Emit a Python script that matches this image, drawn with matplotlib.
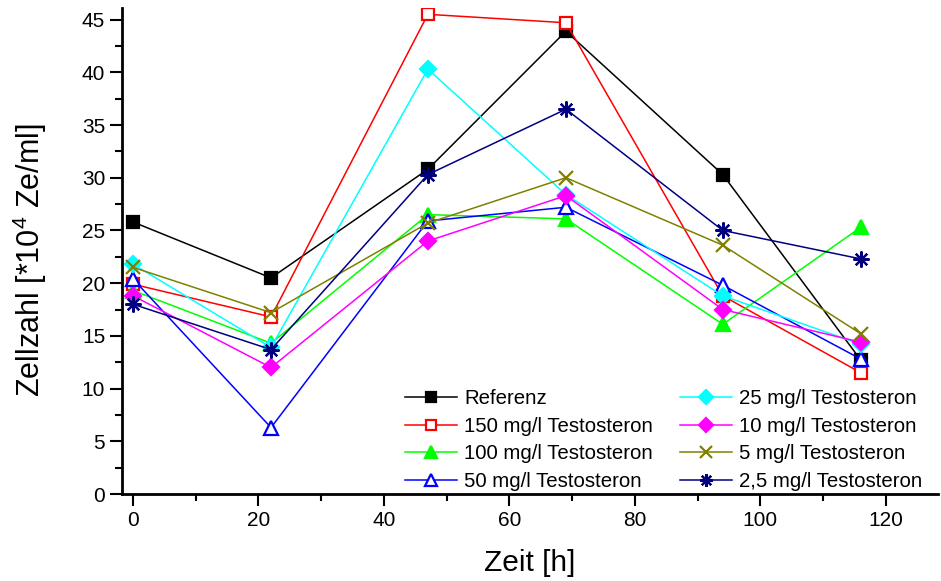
import matplotlib
matplotlib.use("Agg")
import matplotlib.pyplot as plt
from matplotlib.ticker import MultipleLocator

plt.rcParams["font.family"] = ["Liberation Sans", "DejaVu Sans"]
plt.rcParams["mathtext.default"] = "regular"

# Sampling times [h]
zeit = [0, 22, 47, 69, 94, 116]

# Cell counts [*10^4 Ze/ml]
referenz = [25.8, 20.5, 30.8, 43.9, 30.3, 12.7]
t150 = [19.9, 16.8, 45.5, 44.7, 18.8, 11.5]
t100 = [19.3, 14.3, 26.5, 26.1, 16.1, 25.3]
t50 = [20.4, 6.3, 25.9, 27.2, 19.8, 12.8]
t25 = [21.8, 13.9, 40.3, 28.4, 18.8, 14.2]
t10 = [18.8, 12.0, 24.0, 28.3, 17.5, 14.4]
t5 = [21.5, 17.2, 25.7, 30.0, 23.6, 15.2]
t2_5 = [18.0, 13.7, 30.3, 36.5, 25.0, 22.3]

serien = [
    ("Referenz", referenz, "#000000", "s", True),
    ("150 mg/l Testosteron", t150, "#FF0000", "s", False),
    ("100 mg/l Testosteron", t100, "#00FF00", "^", True),
    ("50 mg/l Testosteron", t50, "#0000FF", "^", False),
    ("25 mg/l Testosteron", t25, "#00FFFF", "D", True),
    ("10 mg/l Testosteron", t10, "#FF00FF", "D", True),
    ("5 mg/l Testosteron", t5, "#808000", "x", True),
    ("2,5 mg/l Testosteron", t2_5, "#000080", (8, 2, 0), True),
]

groessen = {"s": 8.5, "^": 10, "D": 8.5, "x": 10, (8, 2, 0): 11.5}

fig = plt.figure(figsize=(9.41, 5.81), dpi=100)
ax = fig.add_axes([122 / 941, 87 / 581, 816 / 941, 486 / 581])

for name, werte, farbe, marker, gefuellt in serien:
    ax.plot(zeit, werte, color=farbe, lw=1.1, marker=marker,
            markersize=groessen[marker],
            markerfacecolor=farbe if gefuellt else "white",
            markeredgecolor=farbe, markeredgewidth=1.6,
            label=name)

ax.set_xlim(-1.75, 128.3)
ax.set_ylim(0, 46.1)
ax.xaxis.set_major_locator(MultipleLocator(20))
ax.xaxis.set_minor_locator(MultipleLocator(10))
ax.yaxis.set_major_locator(MultipleLocator(5))
ax.yaxis.set_minor_locator(MultipleLocator(2.5))

for s in ("top", "right"):
    ax.spines[s].set_visible(False)
for s in ("left", "bottom"):
    ax.spines[s].set_linewidth(2)

ax.tick_params(which="major", direction="out", length=8.6, width=1.5,
               labelsize=15, pad=3.5)
ax.tick_params(which="minor", direction="out", length=5, width=1.5)

ax.set_xlabel("Zeit [h]", fontsize=21.5)
ax.set_ylabel(r"Zellzahl [*10$^{4}$ Ze/ml]", fontsize=22)
ax.xaxis.set_label_coords(0.5, -0.113)
ax.yaxis.set_label_coords(-0.090, 0.482)

leg = ax.legend(ncol=2, loc="upper left", frameon=False, fontsize=14.7,
                handlelength=2.55, handletextpad=0.35, columnspacing=1.3,
                labelspacing=0.42, borderpad=0.4, borderaxespad=0.0,
                markerscale=0.8,
                bbox_to_anchor=(397 / 941, 1 - 381 / 581),
                bbox_transform=fig.transFigure)

fig.savefig("out.png", dpi=100)
